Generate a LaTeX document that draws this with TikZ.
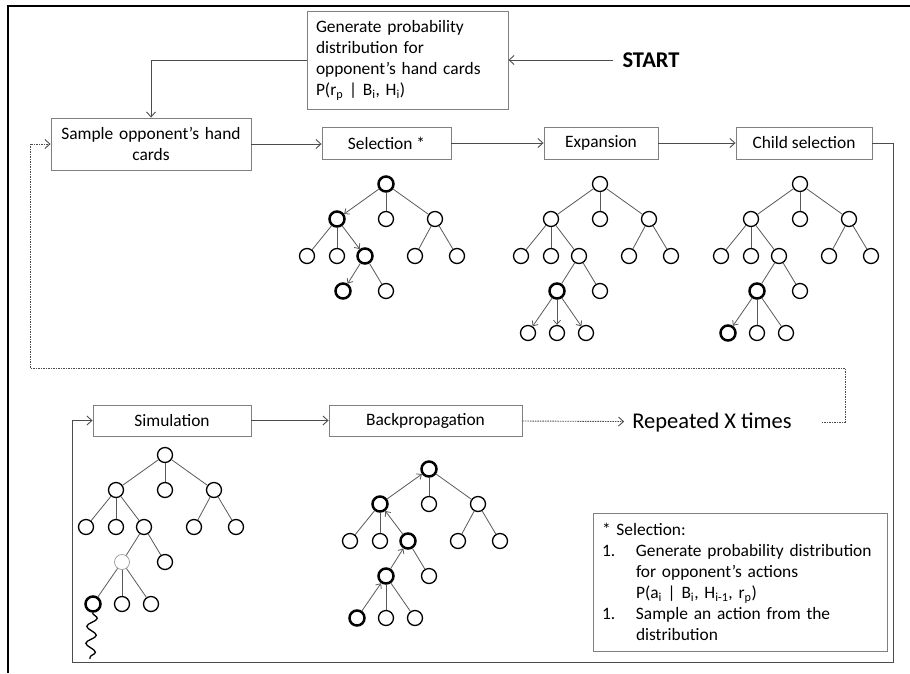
\documentclass[tikz,border=0pt]{standalone}
\usepackage{fontspec}
\setmainfont{Carlito}
\usetikzlibrary{arrows.meta,decorations.pathmorphing}

\tikzset{
  >={Straight Barb[length=5pt,width=9pt]},
  stage/.style={draw=black!50, line width=0.9pt, minimum height=32pt, inner sep=4pt,
    font=\fontsize{17.4}{21}\selectfont},
  flow/.style={draw=black!70, line width=0.9pt},
  repeat line/.style={flow, dash pattern=on 1.5pt off 1pt},
  tn/.style={circle, draw, line width=1.3pt, minimum size=15pt, inner sep=0pt},
  bold node/.style={line width=2.5pt},
  faint node/.style={draw=black!40, line width=0.7pt},
  te/.style={draw=black!65, line width=0.8pt},
  down arrow/.style={-{Straight Barb[length=4pt,width=7pt]}},
  up arrow/.style={{Straight Barb[length=4pt,width=7pt]}-},
}

% levels 0 to 3 of the search tree
\newcommand{\uppertree}{
  \node[tn, nr/.try] (r) at (0,0) {};
  \node[tn, na/.try] (a) at (-49,35) {};
  \node[tn, nb/.try] (b) at (0,35) {};
  \node[tn, nc/.try] (c) at (49,35) {};
  \node[tn, na1/.try] (a1) at (-79,72) {};
  \node[tn, na2/.try] (a2) at (-49,72) {};
  \node[tn, na3/.try] (a3) at (-21,72) {};
  \node[tn, nc1/.try] (c1) at (29,72) {};
  \node[tn, nc2/.try] (c2) at (71,72) {};
  \node[tn, nd1/.try] (d1) at (-43,107) {};
  \node[tn, nd2/.try] (d2) at (0,107) {};
  \draw[te, ea/.try] (r) -- (a);
  \draw[te] (r) -- (b);
  \draw[te] (r) -- (c);
  \draw[te] (a) -- (a1);
  \draw[te] (a) -- (a2);
  \draw[te, ea3/.try] (a) -- (a3);
  \draw[te] (c) -- (c1);
  \draw[te] (c) -- (c2);
  \draw[te, ed1/.try] (a3) -- (d1);
  \draw[te] (a3) -- (d2);
}
% level 4, below d1
\newcommand{\lowertree}{
  \node[tn, ne1/.try] (e1) at (-72,149) {};
  \node[tn] (e2) at (-43,149) {};
  \node[tn] (e3) at (-14,149) {};
  \draw[te, ee1/.try] (d1) -- (e1);
  \draw[te, ee2/.try] (d1) -- (e2);
  \draw[te, ee3/.try] (d1) -- (e3);
}

\begin{document}
\begin{tikzpicture}[x=1pt, y=-1pt]
  \useasboundingbox (0,0) rectangle (910,673);
  \draw[line width=2.5pt] (8,673) -- (8,6) -- (910,6);

  % boxes
  \node[stage, minimum width=201pt, minimum height=95pt, text width=183pt, inner sep=9pt,
    align=left] (gen) at (407.5,60.5)
    {Generate probability\\ distribution for\\ opponent’s hand cards\\
     P(r\textsubscript{p} | B\textsubscript{i}, H\textsubscript{i})};
  \node[font=\fontsize{22.5}{26}\selectfont\bfseries, inner xsep=9pt] (start) at (651,60) {START};
  \node[stage, minimum width=200pt, minimum height=52pt, text width=190pt, align=center]
    (sample) at (151,144) {Sample opponent’s hand\\ cards};
  \node[stage, minimum width=129pt] (sel) at (386.5,143) {Selection *};
  \node[stage, minimum width=114pt] (exp) at (601,143) {Expansion};
  \node[stage, minimum width=136pt] (child) at (804,143) {Child selection};
  \node[stage, minimum width=158pt, minimum height=31pt] (sim) at (172,420.5) {Simulation};
  \node[stage, minimum width=193pt, minimum height=31pt] (back) at (425.5,420.5) {Backpropagation};
  \node[font=\fontsize{22.5}{26}\selectfont, inner xsep=8pt] (rep) at (712,422) {Repeated X times};
  \node[stage, minimum width=294pt, minimum height=138pt, text width=276pt, inner xsep=9pt,
    align=left] (note) at (740,582)
    {* Selection:\\
     \makebox[34pt][l]{1.}Generate probability distribution\\
     \hspace*{34pt}for opponent’s actions\\
     \hspace*{34pt}P(a\textsubscript{i} | B\textsubscript{i}, H\textsubscript{i-1}, r\textsubscript{p})\\
     \makebox[34pt][l]{1.}Sample an action from the\\
     \hspace*{34pt}distribution};

  % connectors
  \coordinate (loopr) at (893,662);
  \coordinate (loopl) at (72,662);
  \coordinate (dashr) at (845,368);
  \coordinate (dashl) at (30,368);
  \draw[flow,->] (start) -- (start -| gen.east);
  \draw[flow,->] (gen.west) -| (sample.north);
  \draw[flow,->] (sample.east) -- (sample.east -| sel.west);
  \draw[flow,->] (sel) -- (exp);
  \draw[flow,->] (exp) -- (child);
  \draw[flow,->] (child.east) -| (loopr) -- (loopl) |- (sim.west);
  \draw[flow,->] (sim) -- (back);
  \draw[repeat line,->] (back) -- (rep);
  \draw[repeat line,->] ([xshift=22pt]rep.east) -| (dashr) -- (dashl) |- (sample.west);

  % trees
  \begin{scope}[shift={(386,184)}, name prefix=sel-, nr/.style=bold node, na/.style=bold node,
      na3/.style=bold node, nd1/.style=bold node, ea/.style=down arrow, ea3/.style=down arrow,
      ed1/.style=down arrow]
    \uppertree
  \end{scope}
  \begin{scope}[shift={(600,184)}, name prefix=exp-, nd1/.style=bold node, ee1/.style=down arrow,
      ee2/.style=down arrow, ee3/.style=down arrow]
    \uppertree
    \lowertree
  \end{scope}
  \begin{scope}[shift={(800,184)}, name prefix=child-, nd1/.style=bold node, ne1/.style=bold node,
      ee1/.style=down arrow]
    \uppertree
    \lowertree
  \end{scope}
  \begin{scope}[shift={(165,455)}, name prefix=sim-, nd1/.style=faint node, ne1/.style=bold node]
    \uppertree
    \lowertree
    \coordinate (w) at (-75,204);
    \draw[line width=1.3pt, decorate, decoration={snake, amplitude=5pt, segment length=17pt}]
      (e1) -- (w);
  \end{scope}
  \begin{scope}[shift={(429,469)}, name prefix=back-, nr/.style=bold node, na/.style=bold node,
      na3/.style=bold node, nd1/.style=bold node, ne1/.style=bold node, ea/.style=up arrow,
      ea3/.style=up arrow, ed1/.style=up arrow, ee1/.style=up arrow]
    \uppertree
    \lowertree
  \end{scope}
\end{tikzpicture}
\end{document}
